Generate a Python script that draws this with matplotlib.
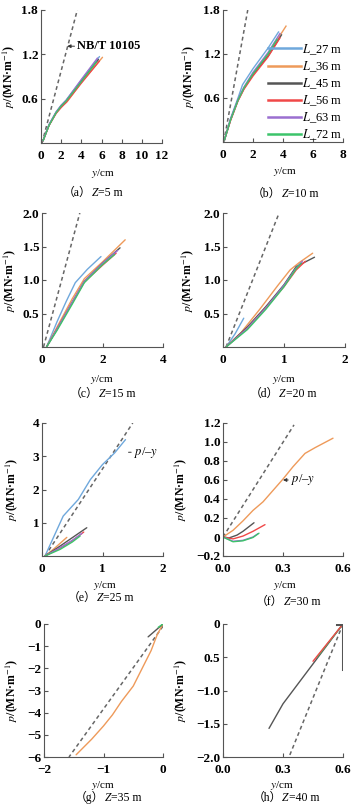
import numpy as np
import matplotlib
matplotlib.use("Agg")
import matplotlib.pyplot as plt

plt.rcParams["font.family"] = ["Liberation Serif", "Noto Sans CJK SC", "DejaVu Serif"]
plt.rcParams["mathtext.fontset"] = "stix"
plt.rcParams["axes.unicode_minus"] = True

W, H = 355, 808

# series names and colours
names = ["27", "36", "45", "56", "63", "72"]
colors = ["#6FA8DC", "#EE9A5A", "#555555", "#F04848", "#9B6FD0", "#3CC46A"]
dash_color = "#666666"

# (a) Z=5 m
a_dash = ([0.1, 3.6], [0.0, 1.8])
a_27 = ([0.2, 0.8, 1.5, 2.0, 2.5, 4.0, 5.8], [0.03, 0.25, 0.42, 0.51, 0.58, 0.85, 1.17])
a_36 = ([0.2, 0.8, 1.5, 2.0, 2.6, 4.0, 6.1], [0.03, 0.24, 0.41, 0.49, 0.56, 0.82, 1.16])
a_45 = ([0.2, 0.8, 1.5, 2.0, 2.5, 4.0, 5.7], [0.03, 0.24, 0.41, 0.50, 0.57, 0.84, 1.13])
a_56 = ([0.2, 0.8, 1.5, 2.0, 2.5, 4.0, 5.8], [0.03, 0.24, 0.40, 0.48, 0.55, 0.81, 1.11])
a_63 = ([0.2, 0.8, 1.5, 2.0, 2.5, 4.0, 5.6], [0.03, 0.25, 0.42, 0.51, 0.58, 0.86, 1.15])
a_72 = ([0.2, 0.8, 1.5, 2.0, 2.5, 4.0, 5.5], [0.03, 0.24, 0.41, 0.50, 0.57, 0.83, 1.10])

# (b) Z=10 m
b_dash = ([0.05, 1.65], [0.0, 1.8])
b_27 = ([0.1, 0.5, 1.0, 1.3, 2.0, 3.0, 3.7], [0.03, 0.32, 0.6, 0.78, 1.0, 1.28, 1.5])
b_36 = ([0.1, 0.5, 1.0, 1.4, 2.0, 3.0, 4.2], [0.03, 0.3, 0.57, 0.74, 0.93, 1.2, 1.58])
b_45 = ([0.1, 0.5, 1.0, 1.4, 2.0, 3.0, 3.9], [0.03, 0.3, 0.57, 0.73, 0.92, 1.17, 1.46])
b_56 = ([0.1, 0.5, 1.0, 1.4, 2.0, 3.0, 3.8], [0.03, 0.29, 0.56, 0.72, 0.9, 1.16, 1.42])
b_63 = ([0.1, 0.5, 1.0, 1.4, 2.0, 3.0, 3.8], [0.03, 0.31, 0.58, 0.75, 0.95, 1.22, 1.48])
b_72 = ([0.1, 0.5, 1.0, 1.4, 2.0, 3.0, 3.6], [0.03, 0.3, 0.57, 0.74, 0.93, 1.2, 1.4])

# (c) Z=15 m
c_dash = ([0.05, 1.25], [0.0, 2.0])
c_27 = ([0.15, 0.5, 0.8, 1.1, 1.5, 1.95], [0.0, 0.38, 0.68, 0.96, 1.16, 1.35])
c_36 = ([0.15, 0.5, 1.0, 1.4, 2.0, 2.75], [0.0, 0.3, 0.72, 1.02, 1.27, 1.6])
c_45 = ([0.15, 0.5, 1.0, 1.4, 2.0, 2.58], [0.0, 0.27, 0.67, 0.98, 1.25, 1.48])
c_56 = ([0.15, 0.5, 1.0, 1.4, 2.0, 2.45], [0.0, 0.27, 0.66, 0.97, 1.22, 1.4])
c_63 = ([0.15, 0.5, 1.0, 1.4, 2.0, 2.5], [0.0, 0.27, 0.67, 0.98, 1.25, 1.44])
c_72 = ([0.15, 0.5, 1.0, 1.4, 2.0, 2.4], [0.0, 0.25, 0.64, 0.96, 1.23, 1.38])

# (d) Z=20 m
d_dash = ([0.05, 0.92], [0.0, 2.0])
d_27 = ([0.05, 0.2, 0.34], [0.0, 0.2, 0.43])
d_36 = ([0.05, 0.3, 0.6, 0.9, 1.1, 1.25, 1.47], [0.0, 0.22, 0.56, 0.92, 1.15, 1.26, 1.4])
d_45 = ([0.05, 0.4, 0.7, 1.0, 1.2, 1.5], [0.0, 0.3, 0.6, 0.93, 1.2, 1.34])
d_56 = ([0.05, 0.4, 0.7, 1.0, 1.2, 1.35], [0.0, 0.28, 0.58, 0.9, 1.15, 1.28])
d_63 = ([0.05, 0.4, 0.7, 1.0, 1.2, 1.3], [0.0, 0.28, 0.58, 0.92, 1.18, 1.28])
d_72 = ([0.05, 0.4, 0.7, 1.0, 1.2, 1.28], [0.0, 0.26, 0.56, 0.9, 1.17, 1.25])

# (e) Z=25 m
e_dash = ([0.05, 1.5], [0.0, 4.0])
e_27 = ([0.05, 0.2, 0.35, 0.5, 0.6, 0.8, 1.0, 1.2, 1.38], [0.0, 0.6, 1.2, 1.5, 1.7, 2.3, 2.75, 3.1, 3.5])
e_36 = ([0.05, 0.2, 0.41], [0.0, 0.22, 0.56])
e_45 = ([0.05, 0.3, 0.5, 0.74], [0.0, 0.3, 0.55, 0.85])
e_56 = ([0.05, 0.3, 0.5, 0.69], [0.0, 0.24, 0.46, 0.72])
e_63 = ([0.05, 0.3, 0.5, 0.66], [0.0, 0.25, 0.47, 0.68])
e_72 = ([0.05, 0.3, 0.5, 0.63], [0.0, 0.2, 0.42, 0.6])

# (f) Z=30 m
f_dash = ([0.0, 0.355], [0.0, 1.18])
f_36 = ([0.0, 0.05, 0.1, 0.15, 0.2, 0.25, 0.3, 0.35, 0.41, 0.46, 0.55],
        [0.0, 0.07, 0.17, 0.28, 0.37, 0.49, 0.61, 0.74, 0.88, 0.94, 1.04])
f_45 = ([0.0, 0.03, 0.07, 0.1, 0.155], [0.0, -0.01, 0.02, 0.06, 0.15])
f_56 = ([0.0, 0.05, 0.1, 0.15, 0.21], [0.0, -0.02, 0.01, 0.06, 0.13])
f_63 = ([0.0, 0.05, 0.1, 0.15, 0.175], [0.0, -0.045, -0.035, 0.0, 0.035])
f_72 = ([0.0, 0.05, 0.1, 0.15, 0.18], [0.0, -0.05, -0.04, -0.005, 0.04])

# (g) Z=35 m
g_dash = ([0.0, -1.58], [-0.1, -6.0])
g_36 = ([0.0, -0.1, -0.2, -0.35, -0.5, -0.7, -0.85, -1.0, -1.2, -1.46],
        [0.0, -0.5, -1.2, -2.0, -2.8, -3.5, -4.1, -4.6, -5.2, -5.9])
g_45 = ([0.0, -0.25], [0.0, -0.58])
g_72 = ([0.0, -0.08], [0.0, -0.15])

# (h) Z=40 m
h_dash = ([0.6, 0.33], [0.0, -2.0])
h_45 = ([0.6, 0.45, 0.3, 0.23], [0.0, -0.6, -1.2, -1.57])
h_45b = ([0.57, 0.6, 0.6], [0.0, 0.0, -0.68])
h_56 = ([0.6, 0.45], [0.0, -0.56])
h_72 = ([0.6, 0.47], [0.0, -0.5])

fig = plt.figure(figsize=(W / 100, H / 100), dpi=100)


def px_axes(l, r, t, b):
    return fig.add_axes([l / W, 1 - b / H, (r - l) / W, (b - t) / H])


def style(ax, xlim, ylim, xt, yt, ytl=None):
    ax.set_xlim(*xlim)
    ax.set_ylim(*ylim)
    ax.set_xticks(xt)
    ax.set_yticks(yt)
    if ytl is not None:
        ax.set_yticklabels(ytl)
    for s in ["top", "right"]:
        ax.spines[s].set_visible(False)
    for s in ["left", "bottom"]:
        ax.spines[s].set_color("#555555")
        ax.spines[s].set_linewidth(0.8)
    ax.tick_params(direction="in", length=3, width=0.8, color="#555555",
                   labelsize=9.5)
    ax.tick_params(axis="x", pad=5)
    ax.tick_params(axis="y", pad=2)
    for lab in ax.get_xticklabels() + ax.get_yticklabels():
        lab.set_fontweight("bold")


def labels(ax, letter, zval, xl_px, cap_px, yl_x):
    fig.text(xl_px[0] / W, 1 - xl_px[1] / H, "$y$/cm", ha="center", va="center", fontsize=8)
    # caption: "（a）" + italic Z + "=5 m", chained left to right
    t1 = fig.text(cap_px[0] / W, 1 - cap_px[1] / H, f"（{letter}）", ha="left",
                  va="baseline", fontsize=8.5)
    t2 = plt.annotate("Z", xy=(1, 0), xycoords=t1, xytext=(0, 0), textcoords="offset points",
                      style="italic", fontsize=8.5, va="bottom", ha="left",
                      annotation_clip=False)
    plt.annotate(f"={zval} m", xy=(1, 0), xycoords=t2, xytext=(0, 0),
                 textcoords="offset points", fontsize=8.5, va="bottom", ha="left",
                 annotation_clip=False)
    ax.set_ylabel("$p$/(MN·m$^{-1}$)", fontsize=8.5, fontweight="bold")
    ax.yaxis.set_label_coords(yl_x, 0.5)


def curves(ax, series, lw=1.0):
    for (x, y), c in series:
        ax.plot(x, y, color=c, lw=lw, solid_capstyle="round")


def dash(ax, d):
    ax.plot(d[0], d[1], ls=(0, (2.5, 2)), color=dash_color, lw=1.1)


# (a)
ax = px_axes(41, 162, 10, 143)
dash(ax, a_dash)
curves(ax, zip([a_27, a_36, a_45, a_56, a_63, a_72], colors))
ax.annotate("NB/T 10105", xy=(2.6, 1.31), xytext=(3.6, 1.31), fontsize=9, fontweight="bold",
            va="center", arrowprops=dict(arrowstyle="-|>", color="#333333", lw=0.7,
                                         mutation_scale=5, shrinkA=0, shrinkB=0))
style(ax, (0, 12), (0, 1.8), [0, 2, 4, 6, 8, 10, 12], [0.6, 1.2, 1.8])
labels(ax, "a", "5", (103, 173), (63, 196), -0.2)

# (b)
ax = px_axes(223, 343, 10, 142)
dash(ax, b_dash)
for (x, y), c, n in zip([b_27, b_36, b_45, b_56, b_63, b_72], colors, names):
    ax.plot(x, y, color=c, lw=1.0)
style(ax, (0, 8), (0, 1.8), [0, 2, 4, 6, 8], [0.6, 1.2, 1.8])
labels(ax, "b", "10", (285, 171), (252, 197), -0.22)
handles = [plt.Line2D([], [], color=c, lw=1.8) for c in colors]
fig.legend(handles, [f"$L$_{n} m" for n in names], loc="upper left",
           bbox_to_anchor=(268 / W, 1 - 42 / H), frameon=False, fontsize=9,
           handlelength=2.6, handletextpad=0.1, labelspacing=0.2, borderpad=0,
           borderaxespad=0)

# (c)
ax = px_axes(42, 163, 213, 347)
dash(ax, c_dash)
curves(ax, zip([c_27, c_36, c_45, c_56, c_63, c_72], colors))
style(ax, (0, 4), (0, 2.0), [0, 2, 4], [0.5, 1.0, 1.5, 2.0])
labels(ax, "c", "15", (102, 380), (70, 397), -0.2)

# (d)
ax = px_axes(223, 345, 213, 347)
dash(ax, d_dash)
curves(ax, zip([d_27, d_36, d_45, d_56, d_63, d_72], colors))
style(ax, (0, 2), (0, 2.0), [0, 1, 2], [0.5, 1.0, 1.5, 2.0])
labels(ax, "d", "20", (284, 380), (250, 397), -0.22)

# (e)
ax = px_axes(42, 163, 423, 556)
dash(ax, e_dash)
curves(ax, zip([e_27, e_36, e_45, e_56, e_63, e_72], colors))
ax.annotate("$p$/–$y$", xy=(1.43, 3.12), xytext=(1.52, 3.12), fontsize=9, va="center",
            arrowprops=dict(arrowstyle="-", color="#333333", lw=0.7, shrinkA=0, shrinkB=0))
style(ax, (0, 2), (0, 4), [0, 1, 2], [1, 2, 3, 4])
labels(ax, "e", "25", (105, 585), (68, 601), -0.18)

# (f)
ax = px_axes(223, 343, 423, 556)
dash(ax, f_dash)
curves(ax, zip([f_36, f_45, f_56, f_63, f_72], colors[1:]))
ax.annotate("$p$/–$y$", xy=(0.3, 0.6), xytext=(0.34, 0.6), fontsize=9, va="center",
            arrowprops=dict(arrowstyle="-|>", color="#333333", lw=0.7,
                            mutation_scale=5, shrinkA=0, shrinkB=0))
style(ax, (0, 0.6), (-0.2, 1.2), [0, 0.3, 0.6], [-0.2, 0, 0.2, 0.4, 0.6, 0.8, 1.0, 1.2],
      ["−0.2", "0", "0.2", "0.4", "0.6", "0.8", "1.0", "1.2"])
labels(ax, "f", "30", (285, 585), (256, 605), -0.28)

# (g)
ax = px_axes(44, 163, 624, 757)
dash(ax, g_dash)
curves(ax, zip([g_36, g_45, g_72], [colors[1], colors[2], colors[5]]))
style(ax, (-2, 0), (-6, 0), [-2, -1, 0], [0, -1, -2, -3, -4, -5, -6])
labels(ax, "g", "35", (103, 785), (75, 801), -0.2)

# (h)
ax = px_axes(223, 343, 624, 757)
dash(ax, h_dash)
curves(ax, zip([h_45, h_72, h_56], [colors[2], colors[5], colors[3]]))
ax.plot(h_45b[0], h_45b[1], color="#555555", lw=2.2)
style(ax, (0, 0.6), (-2.0, 0), [0, 0.3, 0.6], [0, -0.5, -1.0, -1.5, -2.0],
      ["0", "0.5", "−1.0", "−1.5", "−2.0"])
labels(ax, "h", "40", (282, 785), (253, 801), -0.28)

fig.savefig("out.png", dpi=100)
